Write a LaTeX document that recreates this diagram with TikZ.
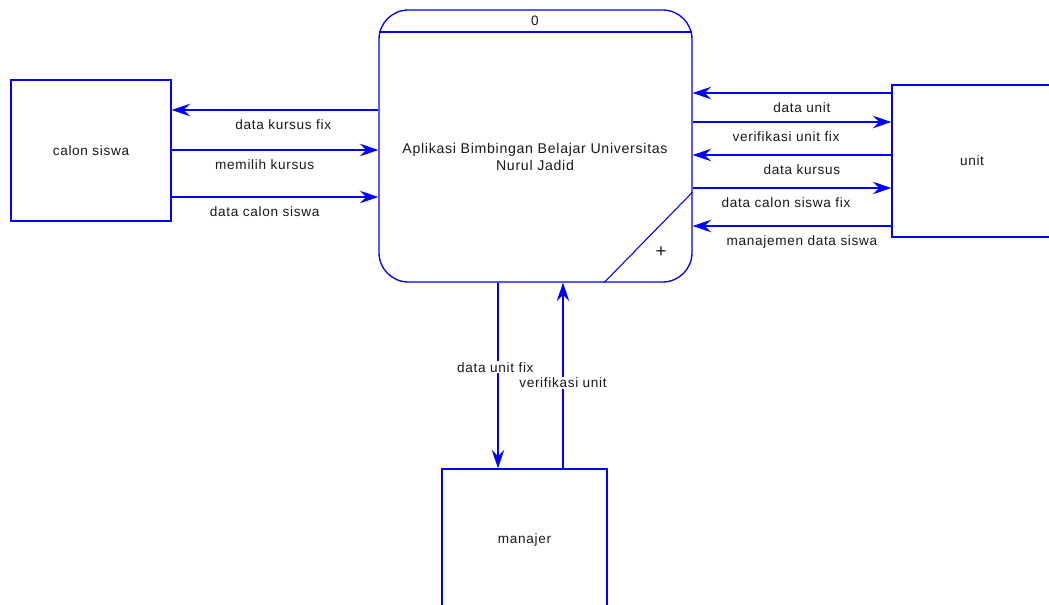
\documentclass[tikz,border=0pt]{standalone}
\usepackage{fontspec}
\setmainfont[LetterSpace=5]{Liberation Sans}
\usetikzlibrary{arrows.meta}
\definecolor{dfdblue}{RGB}{0,0,255}
\definecolor{dfdtext}{RGB}{25,25,25}
\tikzset{
  entity/.style={draw=dfdblue, line width=1pt, text=dfdtext, minimum width=120pt, minimum height=106pt},
  flow/.style={draw=dfdblue, line width=1pt, -{Stealth[length=14pt,width=9.5pt,inset=5pt]}},
  flowlabel/.style={text=dfdtext, inner sep=1pt},
}

\begin{document}
\begin{tikzpicture}[x=0.75pt,y=-0.75pt, font=\fontsize{10.2}{12.5}\selectfont]
\fill[white] (0,0) rectangle (1049,604);
\clip (0,0) rectangle (1049,604);
% external entities
\node[entity, minimum height=105.75pt] (calon) at (91,150.5) {calon siswa};
\node[entity, minimum height=114pt] (unit) at (972,161) {unit};
\node[entity, minimum width=123.75pt, minimum height=106.5pt] (manajer) at (524.5,540) {manajer};
% process
\node[draw=dfdblue, line width=1pt, rounded corners=22pt, minimum width=234.75pt, minimum height=204pt] (proc) at (535.5,146) {};
\draw[dfdblue, line width=1pt] ([xshift=0.8pt]proc.west |- 0,32) -- ([xshift=-0.8pt]proc.east |- 0,32);
\draw[dfdblue, line width=0.8pt] (proc.south -| 604,0) -- (proc.east |- 0,192);
\node[text=dfdtext] (procid) at (535,21) {0};
\node[text=dfdtext, align=center, font=\fontsize{10.6}{12.5}\selectfont] (proctext) at (535,157) {Aplikasi Bimbingan Belajar Universitas\\Nurul Jadid};
\node[text=dfdtext, font=\fontsize{14}{14}\selectfont] (plus) at (661,252) {+};
% flows calon siswa
\draw[flow] (proc.west |- 0,110) -- node[flowlabel, below=6pt, pos=0.46] (lkursusfix) {data kursus fix} (calon.east |- 0,110);
\draw[flow] (calon.east |- 0,150) -- node[flowlabel, below=6pt, pos=0.45] (lmemilih) {memilih kursus} (proc.west |- 0,150);
\draw[flow] (calon.east |- 0,197) -- node[flowlabel, below=6pt, pos=0.45] (lcalon) {data calon siswa} (proc.west |- 0,197);
% flows unit
\draw[flow] (unit.west |- 0,93) -- node[flowlabel, below=5.5pt, pos=0.45] (ldataunit) {data unit} (proc.east |- 0,93);
\draw[flow] (proc.east |- 0,122) -- node[flowlabel, below=5.5pt, pos=0.47] (lverfix) {verifikasi unit fix} (unit.west |- 0,122);
\draw[flow] (unit.west |- 0,155) -- node[flowlabel, below=5.5pt, pos=0.45] (lkursus) {data kursus} (proc.east |- 0,155);
\draw[flow] (proc.east |- 0,188) -- node[flowlabel, below=6pt, pos=0.47] (lcalonfix) {data calon siswa fix} (unit.west |- 0,188);
\draw[flow] (unit.west |- 0,226) -- node[flowlabel, below=6pt, pos=0.45] (lmanajemen) {manajemen data siswa} (proc.east |- 0,226);
% flows manajer
\draw[flow] (proc.south -| 498,0) -- node[flowlabel, fill=white, pos=0.455, xshift=-2pt] (lunitfix) {data unit fix} (manajer.north -| 498,0);
\draw[flow] (manajer.north -| 563,0) -- node[flowlabel, fill=white, pos=0.46] (lverunit) {verifikasi unit} (proc.south -| 563,0);
\end{tikzpicture}
\end{document}
